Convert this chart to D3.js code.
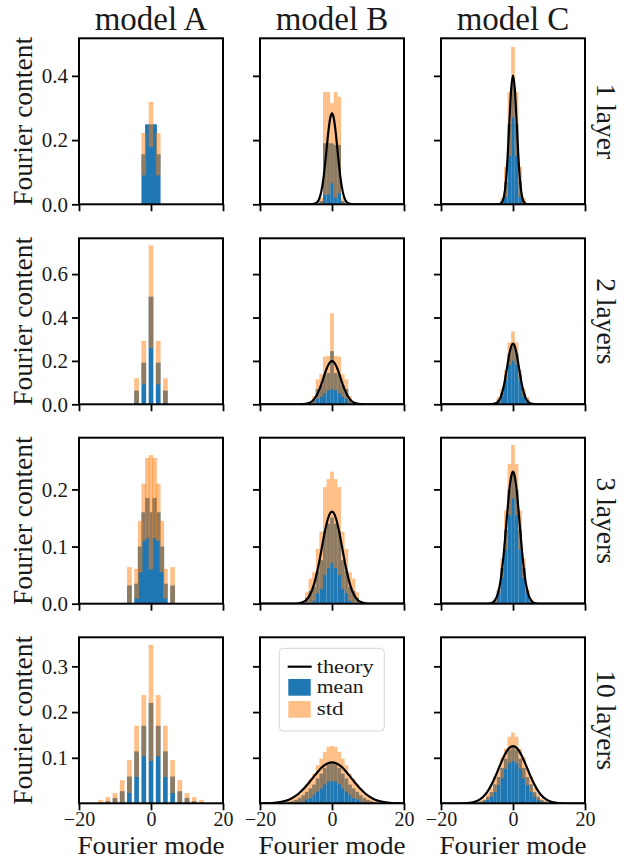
<!DOCTYPE html>
<html><head><meta charset="utf-8">
<script src="https://cdn.jsdelivr.net/npm/d3@7"></script>
<style>
body{margin:0;background:#fff}
svg{display:block}
svg text{font-family:"Liberation Serif","DejaVu Serif","Noto Serif",serif;}
</style>
</head><body><svg id="c" width="636" height="859"></svg>
<script>
// ---------- labels / ticks ----------
const columnTitles = ["model A", "model B", "model C"];
const rowLabels = ["1 layer", "2 layers", "3 layers", "10 layers"];
const xTicks = [-20, 0, 20];
const yTicksByRow = [[0, 0.2, 0.4], [0, 0.2, 0.4, 0.6], [0, 0.1, 0.2], [0.1, 0.2, 0.3]];
const yMaxByRow = [0.517, 0.765, 0.2905, 0.3635];
const yMinByRow = [0, 0, 0, 0.0005];
const legendLabels = ["theory", "mean", "std"];

// ---------- data: model A ----------
const modesA1 = [-2, -1, 0, 1, 2];
const meanA1 = [0.156, 0.249, 0.249, 0.249, 0.156];
const stdA1 = [0.066, 0.0, 0.07, 0.0, 0.066];

const modesA2 = [-4, -2, 0, 2, 4];
const meanA2 = [0.063, 0.192, 0.496, 0.192, 0.063];
const stdA2 = [0.057, 0.10, 0.236, 0.10, 0.057];

const modesA3 = [-6, -4, -3, -2, -1, 0, 1, 2, 3, 4, 6];
const meanA3 = [0.032, 0.035, 0.1, 0.16, 0.185, 0.16, 0.185, 0.16, 0.1, 0.035, 0.032];
const stdA3 = [0.032, 0.026, 0.045, 0.05, 0.07, 0.1, 0.07, 0.05, 0.045, 0.026, 0.032];

const modesA4 = [-14, -12, -10, -8, -6, -4, -2, 0, 2, 4, 6, 8, 10, 12, 14];
const meanA4 = [0.002, 0.005, 0.012, 0.027, 0.059, 0.114, 0.17, 0.22, 0.17, 0.114, 0.059, 0.027, 0.012, 0.005, 0.002];
const stdA4 = [0.006, 0.009, 0.011, 0.024, 0.036, 0.056, 0.067, 0.127, 0.067, 0.056, 0.036, 0.024, 0.011, 0.009, 0.006];

// ---------- data: model B ----------
const modesB1 = [-3, -2, -1, 0, 1, 2, 3];
const meanB1 = [0.01, 0.19, 0.19, 0.19, 0.185, 0.185, 0.01];
const stdB1 = [0.01, 0.16, 0.16, 0.125, 0.165, 0.15, 0.01];

const modesB2 = [-6, -5, -4, -3, -2, -1, 0, 1, 2, 3, 4, 5, 6];
const meanB2 = [0.005, 0.021, 0.07, 0.087, 0.135, 0.144, 0.245, 0.144, 0.135, 0.087, 0.07, 0.021, 0.005];
const stdB2 = [0.005, 0.017, 0.045, 0.052, 0.085, 0.079, 0.175, 0.079, 0.085, 0.052, 0.045, 0.017, 0.005];

const modesB3 = [-7, -6, -5, -4, -3, -2, -1, 0, 1, 2, 3, 4, 5, 6, 7];
const meanB3 = [0.01, 0.022, 0.03, 0.057, 0.076, 0.127, 0.14, 0.151, 0.14, 0.127, 0.076, 0.057, 0.03, 0.022, 0.01];
const stdB3 = [0.01, 0.022, 0.025, 0.039, 0.05, 0.077, 0.078, 0.08, 0.078, 0.077, 0.05, 0.039, 0.025, 0.022, 0.01];

const modesB4 = [-12, -11, -10, -9, -8, -7, -6, -5, -4, -3, -2, -1, 0, 1, 2, 3, 4, 5, 6, 7, 8, 9, 10, 11, 12];
const meanB4 = [0.003, 0.005, 0.008, 0.012, 0.018, 0.0255, 0.033, 0.0415, 0.055, 0.0655, 0.0775, 0.086, 0.0875, 0.086, 0.0775, 0.0655, 0.055, 0.0415, 0.033, 0.0255, 0.018, 0.012, 0.008, 0.005, 0.003];
const stdB4 = [0.003, 0.005, 0.007, 0.01, 0.014, 0.0165, 0.021, 0.0235, 0.029, 0.0325, 0.0355, 0.038, 0.0385, 0.038, 0.0355, 0.0325, 0.029, 0.0235, 0.021, 0.0165, 0.014, 0.01, 0.007, 0.005, 0.003];

// ---------- data: model C ----------
const modesC1 = [-3, -2, -1, 0, 1, 2, 3];
const meanC1 = [0.01, 0.07, 0.25, 0.38, 0.25, 0.07, 0.01];
const stdC1 = [0.01, 0.047, 0.1, 0.11, 0.1, 0.047, 0.01];

const modesC2 = [-5, -4, -3, -2, -1, 0, 1, 2, 3, 4, 5];
const meanC2 = [0.004, 0.022, 0.054, 0.134, 0.233, 0.268, 0.233, 0.134, 0.054, 0.022, 0.004];
const stdC2 = [0.003, 0.012, 0.018, 0.023, 0.052, 0.068, 0.052, 0.023, 0.018, 0.012, 0.003];

const modesC3 = [-5, -4, -3, -2, -1, 0, 1, 2, 3, 4, 5];
const meanC3 = [0.006, 0.0223, 0.062, 0.1288, 0.1996, 0.231, 0.1996, 0.1288, 0.062, 0.0223, 0.006];
const stdC3 = [0.003, 0.004, 0.017, 0.034, 0.045, 0.047, 0.045, 0.034, 0.017, 0.004, 0.003];

const modesC4 = [-9, -8, -7, -6, -5, -4, -3, -2, -1, 0, 1, 2, 3, 4, 5, 6, 7, 8, 9];
const meanC4 = [0.004, 0.0075, 0.015, 0.025, 0.042, 0.058, 0.078, 0.098, 0.117, 0.124, 0.117, 0.098, 0.078, 0.058, 0.042, 0.025, 0.015, 0.0075, 0.004];
const stdC4 = [0.003, 0.0035, 0.007, 0.01, 0.017, 0.018, 0.023, 0.022, 0.029, 0.031, 0.029, 0.022, 0.023, 0.018, 0.017, 0.01, 0.007, 0.0035, 0.003];

// ---------- theory curves (models B and C) ----------
const theoryX = [-20, -16, -14, -12, -10, -9, -8, -7, -6, -5, -4, -3.5, -3, -2.5, -2, -1.5, -1, -0.5, 0, 0.5, 1, 1.5, 2, 2.5, 3, 3.5, 4, 5, 6, 7, 8, 9, 10, 12, 14, 16, 20];
const theoryB1 = [0,0,0,0,0,0,0,0,0.0001,0.0011,0.0081,0.0186,0.0383,0.0706,0.116,0.172,0.227,0.268,0.283,0.268,0.227,0.172,0.116,0.0706,0.0383,0.0186,0.0081,0.0011,0.0001,0,0,0,0,0,0,0,0];
const theoryC1 = [0,0,0,0,0,0,0,0,0,0,0.0003,0.0017,0.0073,0.0249,0.0678,0.148,0.258,0.36,0.402,0.36,0.258,0.148,0.0678,0.0249,0.0073,0.0017,0.0003,0,0,0,0,0,0,0,0,0,0];
const theoryB2 = [0,0,0,0,0,0.0002,0.0008,0.0028,0.0087,0.0227,0.0496,0.0687,0.0911,0.1156,0.1407,0.1637,0.1825,0.1947,0.199,0.1947,0.1825,0.1637,0.1407,0.1156,0.0911,0.0687,0.0496,0.0227,0.0087,0.0028,0.0008,0.0002,0,0,0,0,0];
const theoryC2 = [0,0,0,0,0,0,0,0,0.0004,0.0029,0.0148,0.0295,0.0536,0.0888,0.1343,0.1852,0.233,0.2674,0.28,0.2674,0.233,0.1852,0.1343,0.0888,0.0536,0.0295,0.0148,0.0029,0.0004,0,0,0,0,0,0,0,0];
const theoryB3 = [0,0,0,0,0.0003,0.001,0.003,0.0075,0.017,0.0338,0.0593,0.0749,0.0918,0.109,0.1254,0.1399,0.1513,0.1585,0.161,0.1585,0.1513,0.1399,0.1254,0.109,0.0918,0.0749,0.0593,0.0338,0.017,0.0075,0.003,0.001,0.0003,0,0,0,0];
const theoryC3 = [0,0,0,0,0,0,0,0.0002,0.0012,0.006,0.0223,0.0386,0.062,0.0927,0.1288,0.1663,0.1996,0.2227,0.231,0.2227,0.1996,0.1663,0.1288,0.0927,0.062,0.0386,0.0223,0.006,0.0012,0.0002,0,0,0,0,0,0,0];
const theoryB4 = [0.0001,0.0013,0.0035,0.0083,0.0172,0.0236,0.0312,0.04,0.0496,0.0595,0.0691,0.0735,0.0776,0.0812,0.0842,0.0867,0.0885,0.0896,0.09,0.0896,0.0885,0.0867,0.0842,0.0812,0.0776,0.0735,0.0691,0.0595,0.0496,0.04,0.0312,0.0236,0.0172,0.0083,0.0035,0.0013,0.0001];
const theoryC4 = [0,0,0.0003,0.0014,0.0055,0.01,0.017,0.0272,0.0408,0.0575,0.0762,0.0857,0.0948,0.1033,0.1108,0.1171,0.1217,0.1246,0.1256,0.1246,0.1217,0.1171,0.1108,0.1033,0.0948,0.0857,0.0762,0.0575,0.0408,0.0272,0.017,0.01,0.0055,0.0014,0.0003,0,0];

// ---------- assemble panels ----------
const panels = [
  [ {m: modesA1, mean: meanA1, std: stdA1, th: null}, {m: modesB1, mean: meanB1, std: stdB1, th: theoryB1}, {m: modesC1, mean: meanC1, std: stdC1, th: theoryC1} ],
  [ {m: modesA2, mean: meanA2, std: stdA2, th: null}, {m: modesB2, mean: meanB2, std: stdB2, th: theoryB2}, {m: modesC2, mean: meanC2, std: stdC2, th: theoryC2} ],
  [ {m: modesA3, mean: meanA3, std: stdA3, th: null}, {m: modesB3, mean: meanB3, std: stdB3, th: theoryB3}, {m: modesC3, mean: meanC3, std: stdC3, th: theoryC3} ],
  [ {m: modesA4, mean: meanA4, std: stdA4, th: null}, {m: modesB4, mean: meanB4, std: stdB4, th: theoryB4}, {m: modesC4, mean: meanC4, std: stdC4, th: theoryC4} ]
];

// ---------- layout / style ----------
const colX = [79, 260, 441];
const rowY = [38.3, 238.3, 437.7, 637.3];
const PW = 144, PH = 166;
const barWidthByCol = [1.3, 1.0, 1.0];
const BLUE = "#1f77b4", ORANGE = "#ff7f0e";
const TXT = "#1a1a1a";

const svg = d3.select("#c");
svg.append("rect").attr("width", 636).attr("height", 859).attr("fill", "#fff");
const defs = svg.append("defs");

panels.forEach((row, r) => {
  row.forEach((p, c) => {
    const x = d3.scaleLinear().domain([-20, 20]).range([0, PW]);
    const y = d3.scaleLinear().domain([yMinByRow[r], yMaxByRow[r]]).range([PH, 0]);
    const g = svg.append("g").attr("transform", `translate(${colX[c]},${rowY[r]})`);
    const cid = `clip${r}${c}`;
    defs.append("clipPath").attr("id", cid).append("rect").attr("width", PW).attr("height", PH);
    const plot = g.append("g").attr("clip-path", `url(#${cid})`);
    const bw = barWidthByCol[c];
    const data = p.m.map((k, i) => ({k, mean: p.mean[i], std: p.std[i]}));
    plot.selectAll("rect.mean").data(data).join("rect").attr("class", "mean")
      .attr("x", d => x(d.k - bw / 2)).attr("width", d => x(d.k + bw / 2) - x(d.k - bw / 2))
      .attr("y", d => y(d.mean)).attr("height", d => Math.max(0, y(0) - y(d.mean)))
      .attr("fill", BLUE);
    plot.selectAll("rect.std").data(data.filter(d => d.std > 0)).join("rect").attr("class", "std")
      .attr("x", d => x(d.k - bw / 2)).attr("width", d => x(d.k + bw / 2) - x(d.k - bw / 2))
      .attr("y", d => y(d.mean + d.std)).attr("height", d => Math.max(0, y(d.mean - d.std) - y(d.mean + d.std)))
      .attr("fill", ORANGE).attr("fill-opacity", 0.5);
    if (p.th) {
      const line = d3.line().x((d, i) => x(theoryX[i])).y(d => y(d)).curve(d3.curveMonotoneX);
      plot.append("path").attr("d", line(p.th)).attr("fill", "none")
        .attr("stroke", "#000").attr("stroke-width", 2.2);
    }
    const ya = d3.axisLeft(y).tickValues(yTicksByRow[r]).tickSize(7).tickPadding(4)
      .tickFormat(c === 0 ? d3.format(".1f") : () => "");
    const yag = g.append("g").call(ya);
    yag.select(".domain").remove();
    yag.attr("font-family", null).attr("font-size", null);
    yag.selectAll(".tick line").attr("stroke", "#000").attr("stroke-width", 1.8);
    yag.selectAll(".tick text").attr("font-size", 21).attr("fill", TXT);
    const xa = d3.axisBottom(x).tickValues(xTicks).tickSize(7).tickPadding(2)
      .tickFormat(r === 3 ? (v => v < 0 ? "\u2212" + Math.abs(v) : String(v)) : () => "");
    const xag = g.append("g").attr("transform", `translate(0,${PH})`).call(xa);
    xag.select(".domain").remove();
    xag.attr("font-family", null).attr("font-size", null);
    xag.selectAll(".tick line").attr("stroke", "#000").attr("stroke-width", 1.8);
    xag.selectAll(".tick text").attr("font-size", 20).attr("fill", TXT);
    g.append("rect").attr("width", PW).attr("height", PH).attr("fill", "none")
      .attr("stroke", "#000").attr("stroke-width", 2);
    if (c === 0) {
      svg.append("text").attr("transform", `translate(32,${rowY[r] + PH / 2}) rotate(-90)`)
        .attr("text-anchor", "middle").attr("font-size", 27.5)
        .attr("fill", TXT).text("Fourier content");
    }
    if (r === 0) {
      svg.append("text").attr("x", colX[c] + PW / 2).attr("y", 30).attr("text-anchor", "middle")
        .attr("font-size", 33).attr("fill", TXT).text(columnTitles[c]);
    }
    if (r === 3) {
      svg.append("text").attr("x", colX[c] + PW / 2).attr("y", 854).attr("text-anchor", "middle")
        .attr("font-size", 25).attr("textLength", 147).attr("lengthAdjust", "spacingAndGlyphs")
        .attr("fill", TXT).text("Fourier mode");
    }
    if (c === 2) {
      svg.append("text").attr("transform", `translate(597,${rowY[r] + PH / 2}) rotate(90)`)
        .attr("text-anchor", "middle").attr("font-size", 27.5)
        .attr("fill", TXT).text(rowLabels[r]);
    }
  });
});

// ---------- legend (model B, 10 layers) ----------
const legendTextWidths = [57, 47, 27];
const legendRowY = [666.7, 687.6, 709.0];
const lg = svg.append("g");
lg.append("rect").attr("x", 279.3).attr("y", 648.3).attr("width", 105).attr("height", 82.7)
  .attr("rx", 4).attr("fill", "#fff").attr("fill-opacity", 0.8).attr("stroke", "#d6d6d6").attr("stroke-width", 1);
lg.append("line").attr("x1", 287.7).attr("x2", 311.7).attr("y1", 666.7).attr("y2", 666.7)
  .attr("stroke", "#000").attr("stroke-width", 2.2);
lg.append("rect").attr("x", 288.3).attr("y", 679).attr("width", 22.4).attr("height", 16.7).attr("fill", BLUE);
lg.append("rect").attr("x", 288.3).attr("y", 701).attr("width", 22.4).attr("height", 16.7).attr("fill", ORANGE).attr("fill-opacity", 0.5);
legendLabels.forEach((t, i) => {
  lg.append("text").attr("x", 316.7).attr("y", legendRowY[i]).attr("dy", "0.32em")
    .attr("font-size", 18.4).attr("textLength", legendTextWidths[i]).attr("lengthAdjust", "spacingAndGlyphs")
    .attr("fill", TXT).text(t);
});
</script></body></html>
